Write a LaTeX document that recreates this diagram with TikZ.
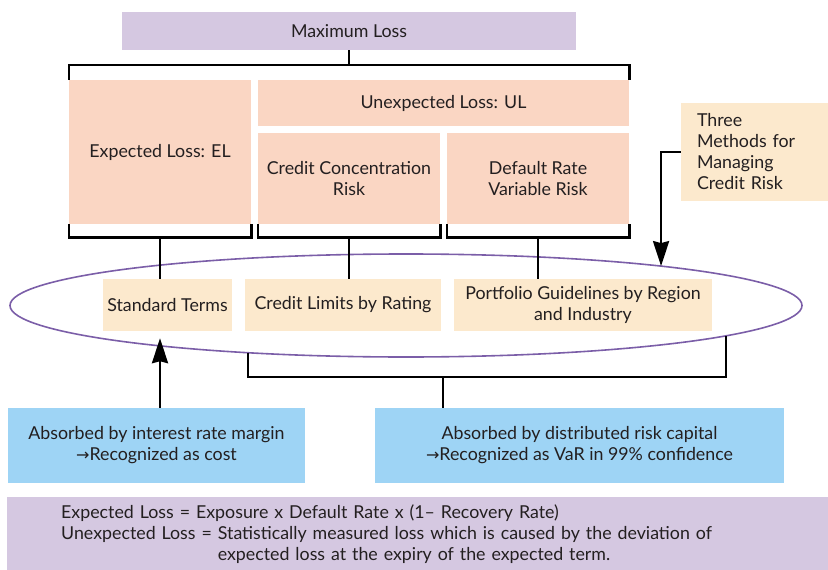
\documentclass[tikz,border=0pt]{standalone}
\usepackage{fontspec}
\setmainfont{Lato}
\newfontfamily\arrowfont{DejaVu Sans}
\usetikzlibrary{arrows.meta,shapes.geometric,calc}
\definecolor{lossviolet}{HTML}{D5C8E1}
\definecolor{losspeach}{HTML}{FAD6C3}
\definecolor{methodtan}{HTML}{FCE9CD}
\definecolor{absorbblue}{HTML}{9ED4F5}
\definecolor{ringviolet}{HTML}{7B5EA8}
\definecolor{inkgrey}{HTML}{231F20}
\newcommand{\thenarrow}{{\arrowfont\fontsize{16}{16}\selectfont →}}
\tikzset{
  box/.style={inner sep=0pt, text=inkgrey, align=center},
  lossbox/.style={box, fill=losspeach},
  methbox/.style={box, fill=methodtan},
  absbox/.style={box, fill=absorbblue},
  bar/.style={line width=2.6pt, black},
  bigarrow/.style={bar, -{Stealth[length=25pt,width=16pt,inset=2pt]}}
}
\begin{document}
\begin{tikzpicture}[x=1pt,y=-1pt,font=\fontsize{17.8}{21}\selectfont]
            \useasboundingbox (0,0) rectangle (828,570);
            \node[box, fill=lossviolet, minimum width=454, minimum height=38] (maxloss) at (349,31) {Maximum Loss};
            \node[lossbox, minimum width=182, minimum height=144] (el) at (160,152) {Expected Loss: EL};
            \node[lossbox, minimum width=371, minimum height=46] (ul) at (443.5,103) {Unexpected Loss: UL};
            \node[lossbox, minimum width=182, minimum height=91] (ccr) at (349,178.5) {Credit Concentration\\Risk};
            \node[lossbox, minimum width=182, minimum height=91] (drvr) at (538,178.5) {Default Rate\\Variable Risk};
            \node[methbox, align=left, text width=115, inner xsep=16, minimum height=98] (three) at (754.5,152) {Three\\Methods for\\Managing\\Credit Risk};
            \node[ellipse, draw=ringviolet, line width=1.6pt, minimum width=792, minimum height=103, inner sep=0pt] (ring) at (406,305.5) {};
            \coordinate (ringtop) at ($(ring.center)+({396*cos(49.9)},{-51.5*sin(49.9)})$);
            \coordinate (ringleft) at ($(ring.center)+({396*cos(246.5)},{-51.5*sin(246.5)})$);
            \coordinate (ringright) at ($(ring.center)+({396*cos(-36.1)},{-51.5*sin(-36.1)})$);
            \node[methbox, minimum width=129, minimum height=52] (std) at (167.5,305) {Standard Terms};
            \node[methbox, minimum width=196, minimum height=52] (climit) at (343,305) {Credit Limits by Rating};
            \node[methbox, minimum width=258, minimum height=52] (pguide) at (583,305) {Portfolio Guidelines by Region\\and Industry};
            \node[absbox, minimum width=297, minimum height=75] (margin) at (156.5,445.5) {Absorbed by interest rate margin\\\thenarrow Recognized as cost};
            \node[absbox, minimum width=409, minimum height=75] (capital) at (579.5,445.5) {Absorbed by distributed risk capital\\\thenarrow Recognized as VaR in 99\% confidence};
            \node[box, fill=lossviolet, align=left, anchor=north west, text width=722, inner xsep=54, minimum height=73] (formula) at (7,497) {Expected Loss = Exposure x Default Rate x (1-- Recovery Rate)\\Unexpected Loss = Statistically measured loss which is caused by the deviation of\\\hphantom{Unexpected Loss =\ }expected loss at the expiry of the expected term.};
            \coordinate (topjoin) at (349,65);
            \draw[bar] (el.north west) |- (topjoin) -| (ul.north east);
            \draw[bar] (maxloss.south) -- (topjoin);
            \draw[bar] (el.south west) -- ++(0,13) -| (el.south east);
            \draw[bar] ($(el.south)+(0,13)$) -- (el.south |- std.north);
            \draw[bar] (ccr.south west) -- ++(0,13) -| (ccr.south east);
            \draw[bar] ($(ccr.south)+(0,13)$) -- (ccr.south |- climit.north);
            \draw[bar] (drvr.south west) -- ++(0,13) -| (drvr.south east);
            \draw[bar] ($(drvr.south)+(0,13)$) -- (drvr.south |- pguide.north);
            \draw[bigarrow] (three.west) -| (ringtop);
            \coordinate (capjoin) at (443,377);
            \draw[bar] (ringleft) |- (capjoin) -| (ringright);
            \draw[bar] (capjoin) -- (capjoin |- capital.north);
            \draw[bigarrow, shorten >=7pt] (el.south |- margin.north) -- (el.south |- std.south);
        \end{tikzpicture}
\end{document}
